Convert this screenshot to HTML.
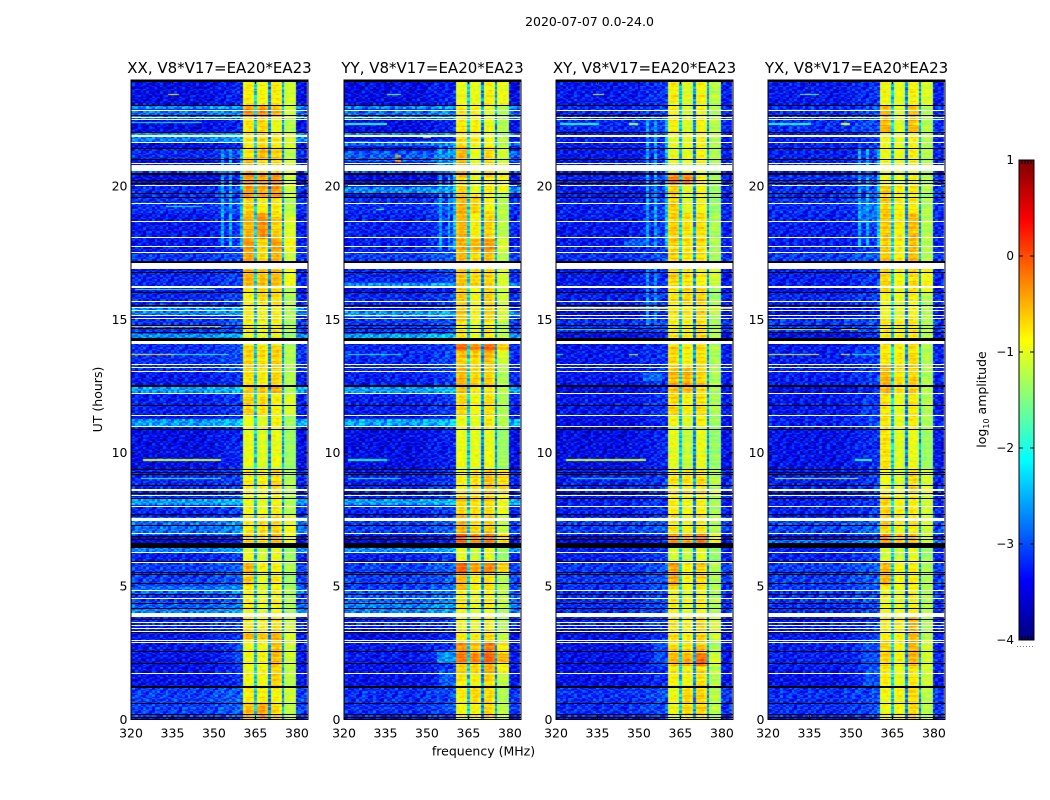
<!DOCTYPE html>
<html lang="en">
<head>
<meta charset="utf-8">
<title>2020-07-07 0.0-24.0</title>
<style>
html,body{margin:0;padding:0;background:#fff;}
#figure{position:relative;width:1050px;height:800px;overflow:hidden;background:#fff;}
canvas{position:absolute;display:block;}
svg{position:absolute;left:0;top:0;}
text{font-family:"DejaVu Sans","Liberation Sans",sans-serif;fill:#000;}
</style>
</head>
<body>
<div id="figure">
<svg id="chart" width="1050" height="800" viewBox="0 0 1050 800" xmlns="http://www.w3.org/2000/svg">
<text x="589.5" y="26" font-size="12.5" text-anchor="middle">2020-07-07 0.0-24.0</text>
<text x="483.5" y="755.5" font-size="12.5" text-anchor="middle">frequency (MHz)</text>
<text transform="translate(102,399.5) rotate(-90)" font-size="12.5" text-anchor="middle">UT (hours)</text>
<text transform="translate(986,399.5) rotate(-90)" font-size="12.5" text-anchor="middle">log<tspan font-size="8" dy="3">10</tspan><tspan dy="-3"> amplitude</tspan></text>
<line x1="1017" x2="1035" y1="646.5" y2="646.5" stroke="#777" stroke-width="1" stroke-dasharray="1 2"/>
</svg>
</div>
<script>
/* ---- shared axis values ---- */
const xTickValues=[320,335,350,365,380];
const yTickValues=[0,5,10,15,20];
const colorbarTickValues=[1,0,-1,-2,-3,-4];
const channelFreqs=[320,321,322,323,324,325,326,327,328,329,330,331,332,333,334,335,336,337,338,339,340,341,342,343,344,345,346,347,348,349,350,351,352,353,354,355,356,357,358,359,360,361,362,363,364,365,366,367,368,369,370,371,372,373,374,375,376,377,378,379,380,381,382,383];
const spectrum=[-3.2,-3.1,-3.1,-3.15,-3.15,-3.1,-3.15,-3.1,-3.15,-3.15,
-3.15,-3.1,-3.15,-3.1,-3.15,-3.15,-3.1,-3.15,-3.15,-3.1,
-3.15,-3.15,-3.1,-3.15,-3.15,-3.15,-3.15,-3.1,-3.1,-3.1,
-3.1,-3.05,-3.05,-3.0,-3.0,-3.0,-3.0,-2.95,-2.95,-2.95,-2.9,
-1.15,-1.05,-1.05,-1.1,-2.4,
-1.2,-1.1,-1.1,-1.25,-2.75,
-1.0,-0.95,-0.95,-1.05,-2.65,
-1.4,-1.35,-1.35,-1.4,
-3.05,-3.1,-3.1,-3.15];
const subBandEdges=[361,366,371,376,380];

/* flagged time ranges shared by every correlation: [hour, duration in hours] */
const whiteFlags=[[22.83,.045],[22.56,.045],[22.49,.045],[21.86,.09],[21.63,.045],[20.85,.045],[20.69,.22],[19.99,.05],[19.34,.045],[18.67,.045],[18.07,.045],[17.73,.045],[17.50,.045],[17.01,.17],[16.89,.045],[16.20,.09],[15.65,.045],[15.44,.045],[15.34,.045],[15.13,.045],[15.04,.045],[14.13,.10],[13.31,.045],[13.19,.045],[13.05,.045],[12.20,.045],[11.39,.045],[10.97,.045],[8.59,.09],[8.41,.045],[7.99,.045],[7.49,.11],[6.97,.045],[6.24,.045],[5.88,.045],[4.82,.045],[4.53,.045],[3.94,.14],[3.64,.045],[3.51,.045],[3.42,.045],[3.31,.045],[2.97,.045],[2.89,.045],[1.72,.045]];
const blackFlags=[[23.92,.08],[23.0,.05],[22.62,.05],[22.0,.05],[21.38,.05],[21.0,.05],[20.46,.08],[20.21,.04],[20.09,.05],[19.72,.05],[19.57,.05],[17.15,.09],[16.75,.05],[16.0,.05],[15.53,.04],[14.78,.05],[14.66,.04],[14.50,.05],[14.25,.10],[12.50,.09],[11.77,.05],[10.87,.05],[9.36,.05],[9.26,.04],[9.18,.04],[8.76,.05],[8.46,.04],[8.28,.04],[7.66,.05],[7.28,.05],[6.86,.05],[6.76,.04],[6.54,.17],[5.91,.05],[5.51,.05],[5.43,.04],[5.10,.05],[4.69,.04],[4.35,.05],[4.16,.04],[3.76,.05],[3.27,.04],[2.53,.05],[2.10,.05],[1.20,.09],[0.60,.05],[0.19,.05],[0.06,.05]];

/* fine-texture tiles: hand-typed repeating residuals, not per-cell readings */
const speckleTile=[
"47291638502749163850274","82564013975286401397528","15938274650193827465019","60472915836047291583604",
"39186520743918652074391","74205861397420586139742","26817394052681739405268","51360948275136094827513",
"93742615089374261508937","08519367420851936742085","42670185934267018593426","67093542816709354281670",
"18356720491835672049183","85924176308592417630859","30481695273048169527304","76215830947621583094762",
"29648057132964805713296"];
const bandRipple=[.02,-.08,.1,-.03,-.12,.06,.14,-.05,0,.09,-.14,.03,.12,-.1,.05,-.02,.16,-.07,.01,-.16,.08,.04,-.09,.11,-.04,.13,-.11];

/* XX panel readings: [start h, end h, low-band log10 amplitude] */
const lowLevelsXX=[[.05,1.2,-3.12],[1.2,2.5,-3.42],[2.5,3.5,-3.37],[3.5,3.9,-3.27],[3.95,4.15,-2.77],[4.15,4.4,-2.97],[4.4,4.7,-3.17],[4.7,5,-2.87],[5,5.9,-3.12],[5.9,6.25,-3.32],[6.25,6.55,-2.77],[6.9,7.6,-2.87],[7.65,8,-3.27],[8.05,8.3,-2.62],[8.3,9.4,-3.27],[9.4,10.9,-3.47],[10.95,11.25,-2.62],[11.4,12.2,-3.32],[12.25,12.5,-2.62],[12.5,13,-3.37],[13,14.1,-3.22],[14.3,14.45,-2.67],[14.45,15,-3.17],[15.15,15.45,-2.77],[15.5,16,-3.27],[16.25,16.8,-3.27],[17.2,17.5,-3.17],[17.5,19,-3.37],[19,20,-3.22],[20.5,20.8,-2.97],[21,21.4,-3.27],[21.65,21.9,-2.77],[21.9,22,-2.62],[22.5,22.85,-2.87],[22.9,23,-2.67],[23,24,-3.47]];
/* [start h, end h, in-band gain for the four sub-bands] */
const bandGainsXX=[[0,.6,.5,.7,.25,.15],[.6,1.2,.25,.3,.1,.25],[1.2,2,.15,.25,.3,.15],[2,3,.15,.25,.4,.25],[3,3.3,.55,.55,.45,.3],[3.3,4,.3,.3,.25,.25],[4,5,.25,.15,.1,.1],[5,5.5,.45,.15,.15,0],[5.5,5.9,.55,.3,.1,.1],[5.9,6.5,.1,0,0,0],[6.5,7,.4,.45,.4,.45],[7,7.7,.25,.4,.25,.4],[7.7,8.5,.15,.15,.1,.1],[8.5,9.4,.25,.3,.25,.1],[9.4,11,.1,.1,0,0],[11,11.4,.1,.1,.1,0],[11.4,12.2,.4,.4,.1,.3],[12.2,12.5,.45,.55,.45,.1],[12.5,13,.3,.3,.25,.1],[13,14,.4,.4,.3,.1],[14,14.5,.15,.15,.1,0],[14.5,15.6,.25,.25,.15,.1],[15.6,16.2,.25,.45,.25,.1],[16.2,17,.55,.55,.4,.4],[17,17.5,.6,.4,.4,.15],[17.5,18,.7,.45,.55,.45],[18,19,.55,.8,.3,.3],[19,19.6,.4,.3,.15,.1],[19.6,20.4,.7,.7,.6,.25],[20.4,21,.55,.4,.25,.25],[21,21.4,.3,.6,.3,.15],[21.4,22,.25,.45,.15,.3],[22,22.6,.3,.45,0,.1],[22.6,23,.7,.8,.4,.25],[23,24,.25,.25,.15,.25]];
/* interference and bright patches: [start h, end h, start MHz, end MHz, level] */
const patchesXX=[[23.4,23.45,334,337,-.9],[22.33,22.38,320,345,-2.1],[19.18,19.23,333,345,-2.1],[16.1,16.15,322,350,-1.8],[15.5,15.55,325,350,-1.2],[14.68,14.73,320,352,-.8],[13.63,13.68,320,335,-.8],[13.63,13.68,335,355,-1.9],[9.69,9.74,325,352,-1.1],[9,9.05,324,352,-1.9],[17.7,21.4,353,353,-2.55],[17.7,21.4,356,356,-2.55],[17.7,21.4,360,360,-2.45],[2,3,358,360,-3]];

const lowLevelsYY=[[.05,1.2,-3.22],[1.2,2,-3.42],[2,3,-3.37],[3.5,3.9,-3.27],[3.95,4.4,-2.77],[4.4,4.8,-2.97],[4.8,5.9,-3.12],[5.9,6.25,-3.32],[6.25,6.5,-2.72],[6.9,7.6,-3.12],[7.65,8,-3.27],[8.05,8.25,-2.62],[8.3,9.4,-3.32],[9.4,10.9,-3.47],[11,11.25,-2.57],[11.4,12.2,-3.32],[12.25,12.45,-2.62],[12.5,13,-3.32],[13,14.1,-3.27],[14.25,14.45,-2.57],[14.45,15,-3.17],[15.1,15.3,-2.67],[15.5,16,-3.27],[16.2,16.35,-2.67],[16.35,17,-3.27],[17.2,17.5,-3.12],[17.5,19,-3.32],[19,19.6,-3.22],[19.7,19.95,-2.72],[20.5,20.8,-2.97],[20.9,21.3,-2.97],[21.5,21.7,-2.87],[21.9,22,-2.67],[22.5,22.85,-2.87],[22.9,23,-2.72],[23,24,-3.47]];
const bandGainsYY=[[0,.6,.15,.25,.25,.15],[.6,1.2,.25,.45,.25,.1],[1.2,1.7,.25,.25,.25,.15],[1.7,2.1,.4,.45,.45,.45],[2.1,2.5,.85,.85,.85,.85],[2.5,2.9,.7,.55,.7,.55],[2.9,3.4,.25,.25,.25,.15],[3.4,4,.15,.15,.1,.1],[4,4.8,.25,.15,.1,.15],[4.8,5.5,.55,.3,.25,.15],[5.5,5.9,.95,.7,.65,.65],[5.9,6.5,.1,0,0,0],[6.5,7,.95,.8,.7,.65],[7,7.7,.55,.4,.3,.15],[7.7,8.5,.4,.4,.25,.4],[8.5,9.4,.25,.4,.4,.65],[9.4,11,.1,.15,0,0],[11,11.4,.1,.1,.1,.1],[11.4,12.2,.4,.25,.25,.1],[12.2,12.5,.45,.25,.1,.1],[12.5,13.3,.55,.45,.3,.1],[13.3,13.8,.45,.45,.4,.25],[13.8,14.1,.9,.8,.8,.7],[14.1,15,.3,.15,.15,.15],[15,16.2,.45,.25,.3,.25],[16.2,17,.45,.4,.25,.25],[17,17.5,.55,.45,.4,.15],[17.5,18,.55,.6,.55,.25],[18,19,.55,.3,.3,.15],[19,19.7,.55,.45,.1,.1],[19.7,20.5,.4,.15,.15,.45],[20.5,21.5,.55,.15,.25,.25],[21.5,23,.3,.3,0,.1],[23,24,.1,.15,.1,.4]];
const patchesYY=[[23.4,23.45,336,340,-1.4],[22.3,22.35,321,335,-2],[21.8,21.85,349,351,-.9],[21.1,21.15,339,340,-.4],[20.9,21,339,340,-.3],[19.1,19.15,332,334,-1.6],[17.6,21.5,355,355,-2.55],[17.6,21.5,358,358,-2.55],[17.6,21.5,360,360,-2.45],[20.5,21.4,354,360,-2.8],[2.1,2.6,354,360,-2.65],[1.2,1.9,355,360,-2.95],[.4,.7,355,360,-3],[9.7,9.75,322,335,-2.1],[9.0,9.05,322,340,-2.1],[13.65,13.7,322,340,-2.1]];

const lowLevelsXY=[[.05,1.2,-3.22],[1.2,3.5,-3.42],[3.5,3.95,-3.32],[4.0,4.4,-3.22],[4.4,5,-3.22],[5,5.9,-3.17],[5.9,6.5,-3.32],[6.9,7.6,-3.12],[7.65,8.4,-3.32],[8.5,9.4,-3.32],[9.4,10.9,-3.47],[11.4,12.2,-3.37],[12.5,14,-3.37],[14.5,15,-3.22],[15.5,16,-3.32],[16.25,17,-3.37],[17.2,17.5,-3.22],[17.5,19,-3.37],[19,20.5,-3.32],[20.5,22,-3.37],[22,23,-3.27],[23,24,-3.37]];
const bandGainsXY=[[0,1.2,.15,.45,.3,.15],[1.2,2,.25,.25,.25,.15],[2,2.5,.55,.65,.8,.3],[2.5,3,.4,.4,.4,.1],[3,4,.3,.25,.25,.25],[4,5,.25,.15,.1,.1],[5,5.9,.65,.3,.3,.1],[5.9,6.5,0,0,0,0],[6.5,7,.7,.65,.7,.45],[7,8.5,.3,.25,.15,.1],[8.5,9.4,.3,.4,.25,.15],[9.4,11,.1,0,0,0],[11,11.4,.15,.1,.1,0],[11.4,12.2,.4,.3,.25,.1],[12.2,13.2,.55,.65,.3,.1],[13.2,14,.4,.3,.25,.1],[14,15.6,.25,.3,.25,.1],[15.6,16.2,.3,.45,.3,0],[16.2,17,.4,.4,.1,.25],[17,19,.45,.4,.25,.1],[19,20,.45,.15,.1,0],[20,20.5,.85,.85,.15,.1],[20.5,22,.1,.15,.1,.1],[22,24,.25,.1,.1,.15]];
const patchesXY=[[23.4,23.45,334,337,-1.2],[22.3,22.35,322,335,-2],[22.3,22.35,347,349,-1.2],[15.4,15.45,320,384,-.9],[14.6,14.65,321,345,-2],[13.65,13.7,320,322,-2],[13.65,13.7,347,349,-1.2],[9.69,9.74,324,352,-1.1],[9.0,9.05,326,350,-2.2],[17.7,22.5,353,353,-2.55],[17.7,22.5,356,356,-2.55],[17.7,22.5,360,360,-2.45],[14.7,17,353,353,-2.65],[14.7,17,356,356,-2.65],[17.7,18,345,353,-2.95],[12.7,13,352,358,-2.85],[2,3,356,360,-3]];

const lowLevelsYX=[[.05,1.2,-3.22],[1.2,1.9,-3.42],[1.9,3,-3.32],[3,3.95,-3.37],[4,4.4,-3.22],[4.4,5,-3.17],[5,5.9,-3.12],[5.9,6.5,-3.32],[6.55,6.75,-2.87],[6.9,7.6,-3.07],[7.65,8.4,-3.32],[8.5,9.4,-3.32],[9.4,10.9,-3.42],[10.9,11.4,-3.32],[11.4,12.2,-3.37],[12.5,14,-3.32],[14.5,15,-3.17],[15.5,16,-3.27],[16.25,17,-3.32],[17.2,17.5,-3.12],[17.5,19,-3.32],[19,20.5,-3.22],[20.5,22,-3.32],[22,23,-3.22],[23,24,-3.37]];
const bandGainsYX=[[0,1.2,.15,.25,.25,.15],[1.2,2,.25,.15,.15,.25],[2,3,.4,.25,.45,.25],[3,4,.25,.3,.45,.1],[4,5,.15,.15,.1,.1],[5,5.9,.55,.25,.15,.1],[5.9,6.5,0,0,0,0],[6.5,7,.7,.55,.4,.25],[7,8.5,.4,.25,.15,.25],[8.5,9.4,.15,.1,.25,.3],[9.4,11,.3,.1,0,0],[11,12.2,.3,.15,.15,.1],[12.2,13.3,.55,.4,.3,.1],[13.3,14,.3,.3,.25,.1],[14,15,.25,.25,.15,.1],[15,16,.15,.15,.1,.1],[16,17,.4,.25,.25,.45],[17,19,.45,.3,.4,.1],[19,20,.45,.3,.15,.1],[20,22,.15,.15,.1,.1],[22,23,.55,.1,.4,.1],[23,24,.15,.15,.1,.3]];
const patchesYX=[[23.4,23.45,332,338,-1.6],[22.3,22.35,320,335,-2],[22.3,22.35,347,349,-1],[13.65,13.7,320,338,-1],[13.65,13.7,347,349,-.8],[13.65,13.7,351,360,-2.1],[14.62,14.67,320,342,-1.1],[14.62,14.67,347,352,-.9],[9.69,9.74,352,357,-2],[9,9.05,323,352,-1.2],[17.7,21.4,353,353,-2.55],[17.7,21.4,356,356,-2.55],[17.7,21.4,360,360,-2.45],[18.6,19.5,354,360,-2.85],[1.2,3,355,360,-3],[11,12,354,360,-3.1]];

const panelNames=["XX","YY","XY","YX"];
const panelLeft=[131,344,556,768];
const panelLows=[lowLevelsXX,lowLevelsYY,lowLevelsXY,lowLevelsYX];
const panelGains=[bandGainsXX,bandGainsYY,bandGainsXY,bandGainsYX];
const panelPatches=[patchesXX,patchesYY,patchesXY,patchesYX];

/* ---- scales ---- */
const axisWidth=177, axisTop=80, axisBottom=719.5;
const valueMin=-4, valueMax=1;
function xScale(freq,left){return left+(freq-320)*axisWidth/64;}
function yScale(hour){return axisBottom-hour*26.68;}
function cbScale(v){return 640-(v-valueMin)*96;}
function jet(f){
  f=Math.max(0,Math.min(1,f));
  const ramp=c=>Math.max(0,Math.min(1,1.5-Math.abs(4*f-c)));
  return [Math.round(255*ramp(3)),Math.round(255*ramp(2)),Math.round(255*ramp(1))];
}
const colorTable=[];
for(let i=0;i<256;i++){const c=jet(i/255);colorTable.push("rgb("+c[0]+","+c[1]+","+c[2]+")");}
function colorOf(v){return colorTable[Math.max(0,Math.min(255,Math.round((v-valueMin)/(valueMax-valueMin)*255)))];}

const svg=document.getElementById("chart");
const figure=document.getElementById("figure");
const NS="http://www.w3.org/2000/svg";
const rowHours=0.05;
const rowCount=480;

function subBandOf(freq){
  for(let s=0;s<4;s++){if(freq>=subBandEdges[s]&&freq<subBandEdges[s+1])return s;}
  return -1;
}
function drawHeat(p){
  const left=panelLeft[p];
  const canvas=document.createElement("canvas");
  
  
  canvas.width=axisWidth;
  canvas.height=640;
  canvas.style.left=left+"px";
  canvas.style.top=axisTop+"px";
  figure.insertBefore(canvas,svg);
  const ctx=canvas.getContext("2d");
  const lows=panelLows[p], gains=panelGains[p], patches=panelPatches[p];
  for(let r=0;r<rowCount;r++){
    const hour=(r+.5)*rowHours;
    let low=-3.47, gain=[0,0,0,0];
    for(const s of lows){if(hour>=s[0]&&hour<s[1])low=s[2];}
    for(const s of gains){if(hour>=s[0]&&hour<s[1])gain=s.slice(2);}
    const y0=Math.round(yScale(r*rowHours))-axisTop;
    const y1=Math.round(yScale((r+1)*rowHours))-axisTop;
    const tileRow=speckleTile[(r+p*5)%speckleTile.length];
    const tileShift=Math.floor(r/speckleTile.length)*5+p*7;
    const ripple=bandRipple[(r+p*4)%bandRipple.length]*1.2;
    for(let c=0;c<channelFreqs.length;c++){
      const freq=channelFreqs[c];
      const d=(+tileRow[(c+tileShift)%tileRow.length]-4.5)*.1;
      const sb=subBandOf(freq);
      const notch=freq===365||freq===370||freq===375;
      let v;
      if(sb<0) v=low+(spectrum[c]+3.15)+d;
      else if(notch) v=spectrum[c]+gain[sb]*.15+d*.9;
      else v=spectrum[c]+gain[sb]+ripple+d*.25;
      for(const m of patches){
        if(hour>=m[0]&&hour<m[1]&&freq>=m[2]&&freq<=m[3]) v=Math.max(v,m[4]+d*(m[4]<-2.2?.8:.35));
      }
      const x0=Math.max(0,Math.round(xScale(freq-.5,0)));
      const x1=Math.min(axisWidth,Math.round(xScale(freq+.5,0)));
      ctx.fillStyle=colorOf(v);
      ctx.fillRect(x0,y1,x1-x0,y0-y1);
    }
  }
}

function drawFlags(p,flags,color,label){
  const left=panelLeft[p];
  const group=document.createElementNS(NS,"g");
  
  
  group.setAttribute("shape-rendering","crispEdges");
  for(const f of flags){
    const y=yScale(f[0]+f[1]/2);
    const rect=document.createElementNS(NS,"rect");
    
    
    rect.setAttribute("x",left);
    rect.setAttribute("y",Math.round(y));
    rect.setAttribute("width",axisWidth);
    rect.setAttribute("height",Math.max(1,Math.round(f[1]*26.68)));
    rect.setAttribute("fill",color);
    group.appendChild(rect);
  }
  svg.appendChild(group);
}

function drawAxes(p){
  const left=panelLeft[p], right=left+axisWidth;
  const group=document.createElementNS(NS,"g");
  
  

  for(const v of xTickValues){
    const x=xScale(v,left);
    const t1=document.createElementNS(NS,"path");
    
    
    t1.setAttribute("d","M"+x+" "+axisBottom+"V"+(axisBottom-4)+"M"+x+" "+axisTop+"V"+(axisTop+4));
    t1.setAttribute("stroke","#000");
    t1.setAttribute("fill","none");
    group.appendChild(t1);
    const label=document.createElementNS(NS,"text");
    
    
    label.setAttribute("x",x);
    label.setAttribute("y",737.5);
    label.setAttribute("font-size","12.5");
    label.setAttribute("text-anchor","middle");
    label.textContent=String(v);
    group.appendChild(label);
  }
  for(const v of yTickValues){
    const y=yScale(v);
    const t2=document.createElementNS(NS,"path");
    
    
    t2.setAttribute("d","M"+left+" "+y+"H"+(left+4)+"M"+right+" "+y+"H"+(right-4));
    t2.setAttribute("stroke","#000");
    t2.setAttribute("fill","none");
    group.appendChild(t2);
    const label2=document.createElementNS(NS,"text");
    
    
    label2.setAttribute("x",left-3.5);
    label2.setAttribute("y",y+4.5);
    label2.setAttribute("font-size","12.5");
    label2.setAttribute("text-anchor","end");
    label2.textContent=String(v);
    group.appendChild(label2);
  }
  const frame=document.createElementNS(NS,"rect");
  
  
  frame.setAttribute("x",left);
  frame.setAttribute("y",axisTop);
  frame.setAttribute("width",axisWidth);
  frame.setAttribute("height",axisBottom-axisTop);
  frame.setAttribute("fill","none");
  frame.setAttribute("stroke","#000");
  frame.setAttribute("stroke-width","1");
  group.appendChild(frame);
  const title=document.createElementNS(NS,"text");
  
  
  title.setAttribute("x",left+axisWidth/2);
  title.setAttribute("y",73);
  title.setAttribute("font-size","15");
  title.setAttribute("text-anchor","middle");
  title.textContent=panelNames[p]+", V8*V17=EA20*EA23";
  group.appendChild(title);
  svg.appendChild(group);
}

function drawColorbar(){
  const x=1019,w=15;
  const defs=document.createElementNS(NS,"defs");
  const grad=document.createElementNS(NS,"linearGradient");
  grad.setAttribute("id","jet-gradient");
  grad.setAttribute("x1","0");grad.setAttribute("x2","0");grad.setAttribute("y1","1");grad.setAttribute("y2","0");
  for(let i=0;i<=32;i++){
    const stop=document.createElementNS(NS,"stop");
    const c=jet(i/32);
    stop.setAttribute("offset",(i/32));
    stop.setAttribute("stop-color","rgb("+c[0]+","+c[1]+","+c[2]+")");
    grad.appendChild(stop);
  }
  defs.appendChild(grad);
  svg.appendChild(defs);
  const bar=document.createElementNS(NS,"rect");
  
  
  bar.setAttribute("x",x);
  bar.setAttribute("y",160);
  bar.setAttribute("width",w);
  bar.setAttribute("height",480);
  bar.setAttribute("fill","url(#jet-gradient)");
  bar.setAttribute("stroke","#000");
  bar.setAttribute("stroke-width","1");
  svg.appendChild(bar);
  for(const v of colorbarTickValues){
    const y=cbScale(v);
    const tick=document.createElementNS(NS,"path");
    
    
    tick.setAttribute("d","M"+x+" "+y+"h4M"+(x+w)+" "+y+"h-4");
    tick.setAttribute("stroke","#000");
    tick.setAttribute("fill","none");
    svg.appendChild(tick);
    const label=document.createElementNS(NS,"text");
    
    
    label.setAttribute("x",1014);
    label.setAttribute("y",y+4);
    label.setAttribute("font-size","12");
    label.setAttribute("text-anchor","end");
    label.textContent=(v<0?"\u2212"+(-v):String(v));
    svg.appendChild(label);
  }
  const rulers=document.createElementNS(NS,"path");
  
  
  rulers.setAttribute("d","M1022 160v4M1025 160v4M1028 160v4M1031 160v4M1022 640v-4M1025 640v-4M1028 640v-4M1031 640v-4");
  rulers.setAttribute("stroke","#000");
  rulers.setAttribute("fill","none");
  svg.appendChild(rulers);
}

for(let p=0;p<panelNames.length;p++){
  drawHeat(p);
  drawFlags(p,blackFlags,"#000","flagged-black");
  drawFlags(p,whiteFlags,"#fff","flagged-white");
  drawAxes(p);
}
drawColorbar();
</script>
</body>
</html>
